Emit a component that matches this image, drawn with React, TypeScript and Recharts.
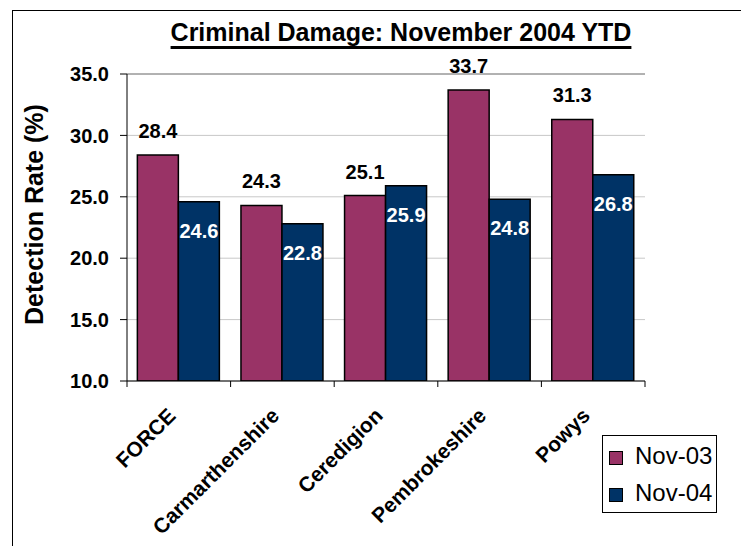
import React from 'react';
import { BarChart, Bar, XAxis, YAxis, CartesianGrid, Legend, LabelList, ReferenceLine } from 'recharts';

const categories = ['FORCE', 'Carmarthenshire', 'Ceredigion', 'Pembrokeshire', 'Powys'];
const nov03 = [28.4, 24.3, 25.1, 33.7, 31.3];
const nov04 = [24.6, 22.8, 25.9, 24.8, 26.8];
const yTicks = [10, 15, 20, 25, 30, 35];

const MAROON = '#993366';
const NAVY = '#003366';
const FONT = "Arial, 'Liberation Sans', sans-serif";

const data = categories.map((name, i) => ({ name, nov03: nov03[i], nov04: nov04[i] }));

const CategoryTick = (props: any) => {
  const { x, y, payload, index, width, visibleTicksCount } = props;
  const band = width / visibleTicksCount;
  const ax = x - 2;
  const ay = y + 36;
  return (
    <g>
      <line x1={x - band / 2} y1={y} x2={x - band / 2} y2={y + 6} stroke="#000" />
      {index === visibleTicksCount - 1 && (
        <line x1={x + band / 2} y1={y} x2={x + band / 2} y2={y + 6} stroke="#000" />
      )}
      <text
        x={ax}
        y={ay}
        textAnchor="end"
        transform={`rotate(-45, ${ax}, ${ay})`}
        fontFamily={FONT}
        fontWeight="bold"
        fontSize={21}
        fill="#000"
      >
        {payload.value}
      </text>
    </g>
  );
};

const TopLabel = (props: any) => {
  const { x, y, width, value } = props;
  return (
    <text x={x + width / 2} y={y - 17} textAnchor="middle" fontFamily={FONT} fontWeight="bold" fontSize={20} fill="#000">
      {Number(value).toFixed(1)}
    </text>
  );
};

const InsideLabel = (props: any) => {
  const { x, y, width, value } = props;
  return (
    <text x={x + width / 2} y={y + 36} textAnchor="middle" fontFamily={FONT} fontWeight="bold" fontSize={20} fill="#fff">
      {Number(value).toFixed(1)}
    </text>
  );
};

const LegendBox = () => (
  <div
    style={{
      border: '1px solid #000',
      background: '#fff',
      width: 113,
      height: 76,
      boxSizing: 'content-box',
      fontFamily: FONT,
      fontSize: 24,
      color: '#000',
    }}
  >
    {[
      { label: 'Nov-03', color: MAROON },
      { label: 'Nov-04', color: NAVY },
    ].map((it, i) => (
      <div key={it.label} style={{ position: 'relative', height: 37, marginTop: i === 0 ? 2 : 0 }}>
        <span
          style={{
            position: 'absolute',
            left: 6,
            top: 13,
            width: 12,
            height: 12,
            background: it.color,
            border: '1px solid #000',
          }}
        />
        <span style={{ position: 'absolute', left: 32, top: 4, lineHeight: '28px' }}>{it.label}</span>
      </div>
    ))}
  </div>
);

export default function App() {
  return (
    <div style={{ position: 'absolute', left: 0, top: 0, width: 741, height: 546, background: '#fff' }}>
      <div
        style={{
          position: 'absolute',
          left: 12,
          top: 10,
          right: 0,
          bottom: 0,
          borderLeft: '1.5px solid #000',
          borderTop: '1.5px solid #000',
        }}
      />
      <div
        style={{
          position: 'absolute',
          left: 0,
          width: 802,
          top: 20,
          textAlign: 'center',
          fontFamily: FONT,
          fontWeight: 'bold',
          fontSize: 25,
          lineHeight: '25px',
          textDecoration: 'underline',
          textDecorationThickness: 3,
          textUnderlineOffset: 5,
          color: '#000',
        }}
      >
        Criminal Damage: November 2004 YTD
      </div>
      <BarChart
        width={741}
        height={546}
        data={data}
        margin={{ top: 74, right: 96, left: 0, bottom: 0 }}
        barCategoryGap="10%"
        barGap={0}
        style={{ position: 'absolute', left: 0, top: 0 }}
      >
        <CartesianGrid vertical={false} stroke="#c8c8c8" />
        <ReferenceLine y={35} stroke="#808080" />
        <XAxis
          dataKey="name"
          height={165}
          interval={0}
          tickLine={false}
          tickSize={0}
          tickMargin={0}
          axisLine={{ stroke: '#000' }}
          tick={<CategoryTick />}
        />
        <YAxis
          domain={[10, 35]}
          ticks={yTicks}
          width={127}
          tickSize={7}
          tickMargin={11}
          interval={0}
          allowDataOverflow
          tickFormatter={(v: number) => v.toFixed(1)}
          tick={{ fontFamily: FONT, fontWeight: 'bold', fontSize: 20, fill: '#000' }}
          tickLine={{ stroke: '#000' }}
          axisLine={{ stroke: '#000' }}
          label={{
            content: (p: any) => {
              const vb = p.viewBox;
              const lx = vb.x + 43;
              const ly = vb.y + vb.height / 2 - 13;
              return (
                <text
                  x={lx}
                  y={ly}
                  textAnchor="middle"
                  transform={`rotate(-90, ${lx}, ${ly})`}
                  fontFamily={FONT}
                  fontWeight="bold"
                  fontSize={25}
                  fill="#000"
                >
                  Detection Rate (%)
                </text>
              );
            },
          }}
        />
        <YAxis
          yAxisId="frame"
          orientation="right"
          width={0}
          domain={[10, 35]}
          tick={false}
          tickLine={false}
          axisLine={{ stroke: '#808080' }}
        />
        <Legend
          layout="vertical"
          align="center"
          verticalAlign="middle"
          content={<LegendBox />}
          wrapperStyle={{ left: 602, top: 435, width: 115, height: 78 }}
        />
        <Bar dataKey="nov03" name="Nov-03" fill={MAROON} stroke="#000" strokeWidth={1.5} isAnimationActive={false}>
          <LabelList dataKey="nov03" content={<TopLabel />} />
        </Bar>
        <Bar dataKey="nov04" name="Nov-04" fill={NAVY} stroke="#000" strokeWidth={1.5} isAnimationActive={false}>
          <LabelList dataKey="nov04" content={<InsideLabel />} />
        </Bar>
      </BarChart>
    </div>
  );
}
